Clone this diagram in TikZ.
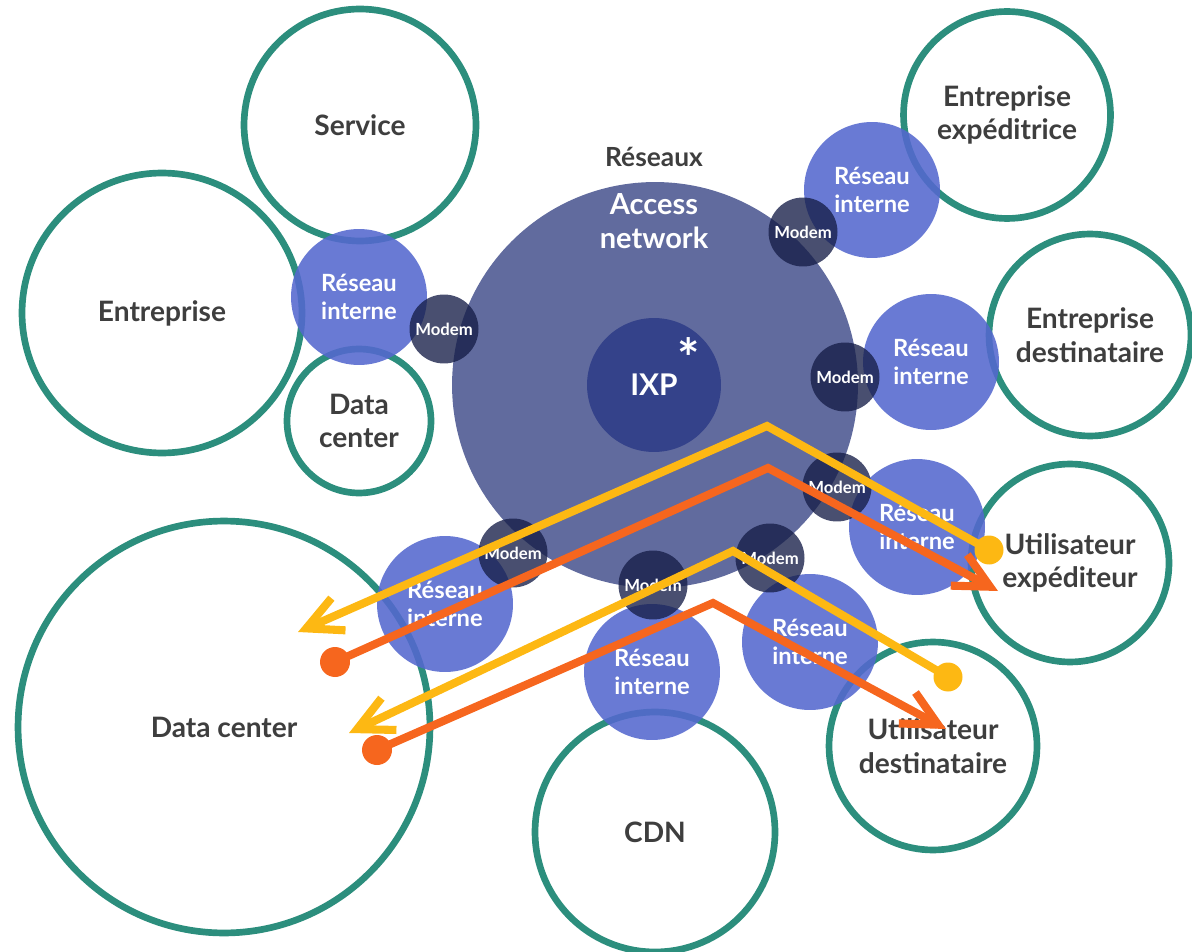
\documentclass[tikz,border=0pt]{standalone}
\usepackage{fontspec}
\setmainfont{Lato}
\usetikzlibrary{arrows.meta}

\definecolor{ringgreen}{RGB}{44,142,125}
\definecolor{lanblue}{RGB}{84,104,206}
\definecolor{accessblue}{RGB}{97,107,158}
\definecolor{ixpblue}{RGB}{52,66,138}
\definecolor{modemnavy}{RGB}{22,30,72}
\definecolor{textgray}{RGB}{62,62,62}
\definecolor{flowyellow}{RGB}{253,184,19}
\definecolor{floworange}{RGB}{246,102,30}

\tikzstyle{ring} = [circle, draw=ringgreen, line width=3.8pt, inner sep=0pt, align=center, text=textgray, font=\bfseries\fontsize{16}{19}\selectfont]
\tikzstyle{lan} = [circle, fill=lanblue, fill opacity=0.88, text opacity=1, inner sep=0pt, minimum size=2.72cm, align=center, text=white, font=\bfseries\fontsize{13.5}{16}\selectfont]
\tikzstyle{modem} = [circle, fill=modemnavy, fill opacity=0.78, text opacity=1, inner sep=0pt, minimum size=1.38cm, text=white, font=\bfseries\fontsize{9.5}{11}\selectfont]
\tikzstyle{ydot} = [circle, fill=flowyellow, inner sep=0pt, minimum size=0.58cm]
\tikzstyle{odot} = [circle, fill=floworange, inner sep=0pt, minimum size=0.6cm]
\tikzstyle{yflow} = [draw=flowyellow, line width=4.6pt, line join=miter, -{Straight Barb[length=20pt,width=20pt]}]
\tikzstyle{oflow} = [draw=floworange, line width=4.6pt, line join=miter, -{Straight Barb[length=20pt,width=20pt]}]

\begin{document}
\begin{tikzpicture}[x=0.02cm, y=-0.02cm]
\useasboundingbox (0,0) rectangle (1192,952);
\node [ring, minimum size=4.64cm] (service) at (360,125) {Service};
\node [ring, minimum size=5.6cm] (ent) at (162,313) {Entreprise};
\node [ring, minimum size=2.88cm] (dcsmall) at (359,421) {Data\\center};
\node [ring, minimum size=4.14cm] (entexp) at (1007,115) {Entreprise\\expéditrice};
\node [ring, minimum size=4.04cm] (entdest) at (1090,335) {Entreprise\\destinataire};
\node [ring, minimum size=3.96cm] (userexp) at (1070,563) {Utilisateur\\expéditeur};
\node [ring, minimum size=4.16cm] (userdest) at (933,746) {Utilisateur\\destinataire};
\node [ring, minimum size=4.8cm] (cdn) at (655,832) {CDN};
\node [ring, minimum size=8.24cm] (dcbig) at (224,727) {Data center};

\node [circle, fill=accessblue, inner sep=0pt, minimum size=8.12cm] (access) at (655,385) {};
\node [circle, fill=ixpblue, inner sep=0pt, minimum size=2.68cm, text=white, font=\bfseries\fontsize{17}{20}\selectfont] (ixp) at (654,385) {IXP\rlap{\smash{\raisebox{1.2ex}{\fontsize{30}{30}\selectfont*}}}};
\node [text=white, align=center, font=\bfseries\fontsize{16.5}{19.5}\selectfont] (accname) at (654,221) {Access\\network};
\node [text=textgray, font=\bfseries\fontsize{15}{18}\selectfont] (reseaux) at (654,157) {Réseaux};

\node [lan] (lanw) at (359,297) {Réseau\\interne};
\node [lan] (lanne) at (872,190) {Réseau\\interne};
\node [lan] (lane) at (931,362) {Réseau\\interne};
\node [lan] (lanse) at (917,527) {Réseau\\interne};
\node [lan] (lansw) at (445,604) {Réseau\\interne};
\node [lan] (lans) at (652,672) {Réseau\\interne};
\node [lan] (lanss) at (810,642) {Réseau\\interne};

\node [modem] (modw) at (444,329) {Modem};
\node [modem] (modne) at (803,232) {Modem};
\node [modem] (mode) at (845,377) {Modem};
\node [modem] (modse) at (837,487) {Modem};
\node [modem] (modsw) at (513,553) {Modem};
\node [modem] (mods) at (653,585) {Modem};
\node [modem] (modss) at (770,558) {Modem};

\node [ydot] (ystart1) at (989,550) {};
\coordinate (ybend1) at (767,426);
\coordinate (yend1) at (298,632);
\node [odot] (ostart1) at (335,662) {};
\coordinate (obend1) at (768,468);
\coordinate (oend1) at (998,591);
\node [ydot] (ystart2) at (948,677) {};
\coordinate (ybend2) at (733,551);
\coordinate (yend2) at (349,733);
\node [odot] (ostart2) at (377,750) {};
\coordinate (obend2) at (713,603);
\coordinate (oend2) at (946,729);

\draw [yflow] (ystart1.center) -- (ybend1) -- (yend1);
\draw [oflow] (ostart1.center) -- (obend1) -- (oend1);
\draw [yflow] (ystart2.center) -- (ybend2) -- (yend2);
\draw [oflow] (ostart2.center) -- (obend2) -- (oend2);
\end{tikzpicture}
\end{document}
